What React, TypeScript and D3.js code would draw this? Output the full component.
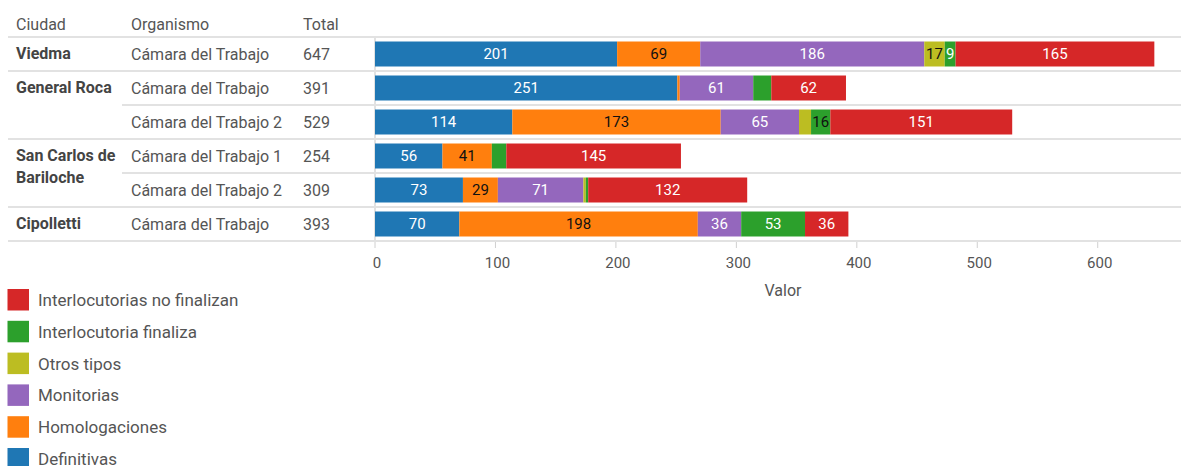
import React, { useEffect, useRef } from 'react';
import * as d3 from 'd3';

// filas de la tabla
const ciudades = ['Viedma', 'General Roca', 'General Roca', 'San Carlos de Bariloche', 'San Carlos de Bariloche', 'Cipolletti'];
const organismos = ['Cámara del Trabajo', 'Cámara del Trabajo', 'Cámara del Trabajo 2', 'Cámara del Trabajo 1', 'Cámara del Trabajo 2', 'Cámara del Trabajo'];

// series (orden de apilado, de izquierda a derecha)
const series = ['Definitivas', 'Homologaciones', 'Monitorias', 'Otros tipos', 'Interlocutoria finaliza', 'Interlocutorias no finalizan'];
const definitivas = [201, 251, 114, 56, 73, 70];
const homologaciones = [69, 2, 173, 41, 29, 198];
const monitorias = [186, 61, 65, 0, 71, 36];
const otrosTipos = [17, 0, 10, 0, 2, 0];
const interlocutoriaFinaliza = [9, 15, 16, 12, 2, 53];
const interlocutoriasNoFinalizan = [165, 62, 151, 145, 132, 36];

const ticks = [0, 100, 200, 300, 400, 500, 600];

// etiquetas que tableau no muestra (fila, serie)
const hiddenLabels = [[1, 1], [1, 4], [2, 3], [3, 4], [4, 3], [4, 4]];
// etiquetas verdes con texto oscuro
const darkGreen = [[2, 4]];

const colors = ['#1f77b4', '#ff7f0e', '#9467bd', '#bcbd22', '#2ca02c', '#d62728'];
const legendOrder = [5, 4, 3, 2, 1, 0];

const W = 1181;
const H = 466;
const FONT = 'Roboto, "Liberation Sans", Arial, sans-serif';

export default function App() {
  const ref = useRef<SVGSVGElement>(null);

  useEffect(() => {
    const svg = d3.select(ref.current);
    svg.selectAll('*').remove();

    const values = [definitivas, homologaciones, monitorias, otrosTipos, interlocutoriaFinaliza, interlocutoriasNoFinalizan];
    const rows = organismos.map((o, i) => {
      const r: any = { i, ciudad: ciudades[i], organismo: o };
      series.forEach((s, k) => (r[s] = values[k][i]));
      r.total = d3.sum(values, v => v[i]);
      return r;
    });

    const x = d3.scaleLinear().domain([0, 660]).range([375, 1170]);
    const y = d3
      .scaleBand<number>()
      .domain(rows.map(r => r.i))
      .range([37, 241])
      .paddingInner(0.265)
      .paddingOuter(0.1325);
    const step = y.step();
    const rowTop = (i: number) => 37 + i * step;

    const stack = d3.stack().keys(series)(rows);

    // lineas de fila
    const lines = svg.append('g').attr('stroke', '#e2e2e2').attr('stroke-width', 2);
    rows.forEach((r, i) => {
      const startX = i > 0 && ciudades[i] === ciudades[i - 1] ? 122 : 8;
      lines.append('line').attr('x1', startX).attr('x2', W).attr('y1', rowTop(i)).attr('y2', rowTop(i));
    });
    lines.append('line').attr('x1', 8).attr('x2', W).attr('y1', rowTop(rows.length)).attr('y2', rowTop(rows.length));
    lines.append('line').attr('x1', x(0)).attr('x2', x(0)).attr('y1', 37).attr('y2', 241);

    // encabezados
    const head = svg.append('g').attr('font-family', FONT).attr('font-size', 16).attr('fill', '#555');
    [['Ciudad', 16], ['Organismo', 131], ['Total', 303]].forEach(([t, px]) => {
      head.append('text').attr('x', px).attr('y', 24).attr('dy', '0.35em').text(t as string);
    });

    // tabla
    const table = svg.append('g').attr('font-family', FONT).attr('font-size', 16);
    rows.forEach((r, i) => {
      const cy = rowTop(i) + step / 2;
      if (i === 0 || ciudades[i] !== ciudades[i - 1]) {
        const words = r.ciudad === 'San Carlos de Bariloche' ? ['San Carlos de', 'Bariloche'] : [r.ciudad];
        words.forEach((w: string, k: number) => {
          table.append('text').attr('x', 16).attr('y', cy - 1 + k * 22).attr('dy', '0.35em')
            .attr('font-weight', 'bold').attr('fill', '#444').text(w);
        });
      }
      table.append('text').attr('x', 131).attr('y', cy).attr('dy', '0.35em').attr('fill', '#555').text(r.organismo);
      table.append('text').attr('x', 303).attr('y', cy).attr('dy', '0.35em').attr('fill', '#555').text(r.total);
    });

    // barras
    const bars = svg.append('g');
    stack.forEach((layer, k) => {
      const g = bars.append('g').attr('fill', colors[k]);
      g.selectAll('rect')
        .data(layer)
        .enter()
        .append('rect')
        .attr('x', d => x(d[0]))
        .attr('y', (d: any) => y(d.data.i)!)
        .attr('width', d => Math.max(0, x(d[1]) - x(d[0])))
        .attr('height', y.bandwidth());
    });

    const labels = svg.append('g').attr('font-family', FONT).attr('font-size', 15).attr('text-anchor', 'middle');
    stack.forEach((layer, k) => {
      layer.forEach((d: any) => {
        const i = d.data.i;
        const v = d[1] - d[0];
        if (v <= 0 || hiddenLabels.some(([a, b]) => a === i && b === k)) return;
        const dark = k === 1 || k === 3 || darkGreen.some(([a, b]) => a === i && b === k);
        labels.append('text')
          .attr('x', (x(d[0]) + x(d[1])) / 2)
          .attr('y', y(i)! + y.bandwidth() / 2)
          .attr('dy', '0.35em')
          .attr('fill', dark ? '#111' : '#fff')
          .text(v);
      });
    });

    // eje
    const axis = svg.append('g').attr('font-family', FONT).attr('font-size', 15).attr('fill', '#555');
    ticks.forEach(t => {
      axis.append('line').attr('x1', x(t)).attr('x2', x(t)).attr('y1', 242).attr('y2', 248)
        .attr('stroke', '#d0d0d0').attr('stroke-width', 1);
      axis.append('text').attr('x', x(t) + 2).attr('y', 263).attr('dy', '0.35em').attr('text-anchor', 'middle').text(t);
    });
    axis.append('text').attr('x', 783).attr('y', 290).attr('dy', '0.35em').attr('text-anchor', 'middle')
      .attr('font-size', 16).text('Valor');

    // leyenda
    const legend = svg.append('g').attr('font-family', FONT).attr('font-size', 17);
    legendOrder.forEach((k, j) => {
      const ly = 289 + j * 31.8;
      legend.append('rect').attr('x', 7.5).attr('y', ly).attr('width', 21.5).attr('height', 21.5).attr('fill', colors[k]);
      legend.append('text').attr('x', 38).attr('y', ly + 11).attr('dy', '0.35em').attr('fill', '#555').text(series[k]);
    });
  }, []);

  return (
    <svg
      ref={ref}
      width={W}
      height={H}
      style={{ position: 'absolute', left: 0, top: 0, background: '#fff' }}
    />
  );
}
